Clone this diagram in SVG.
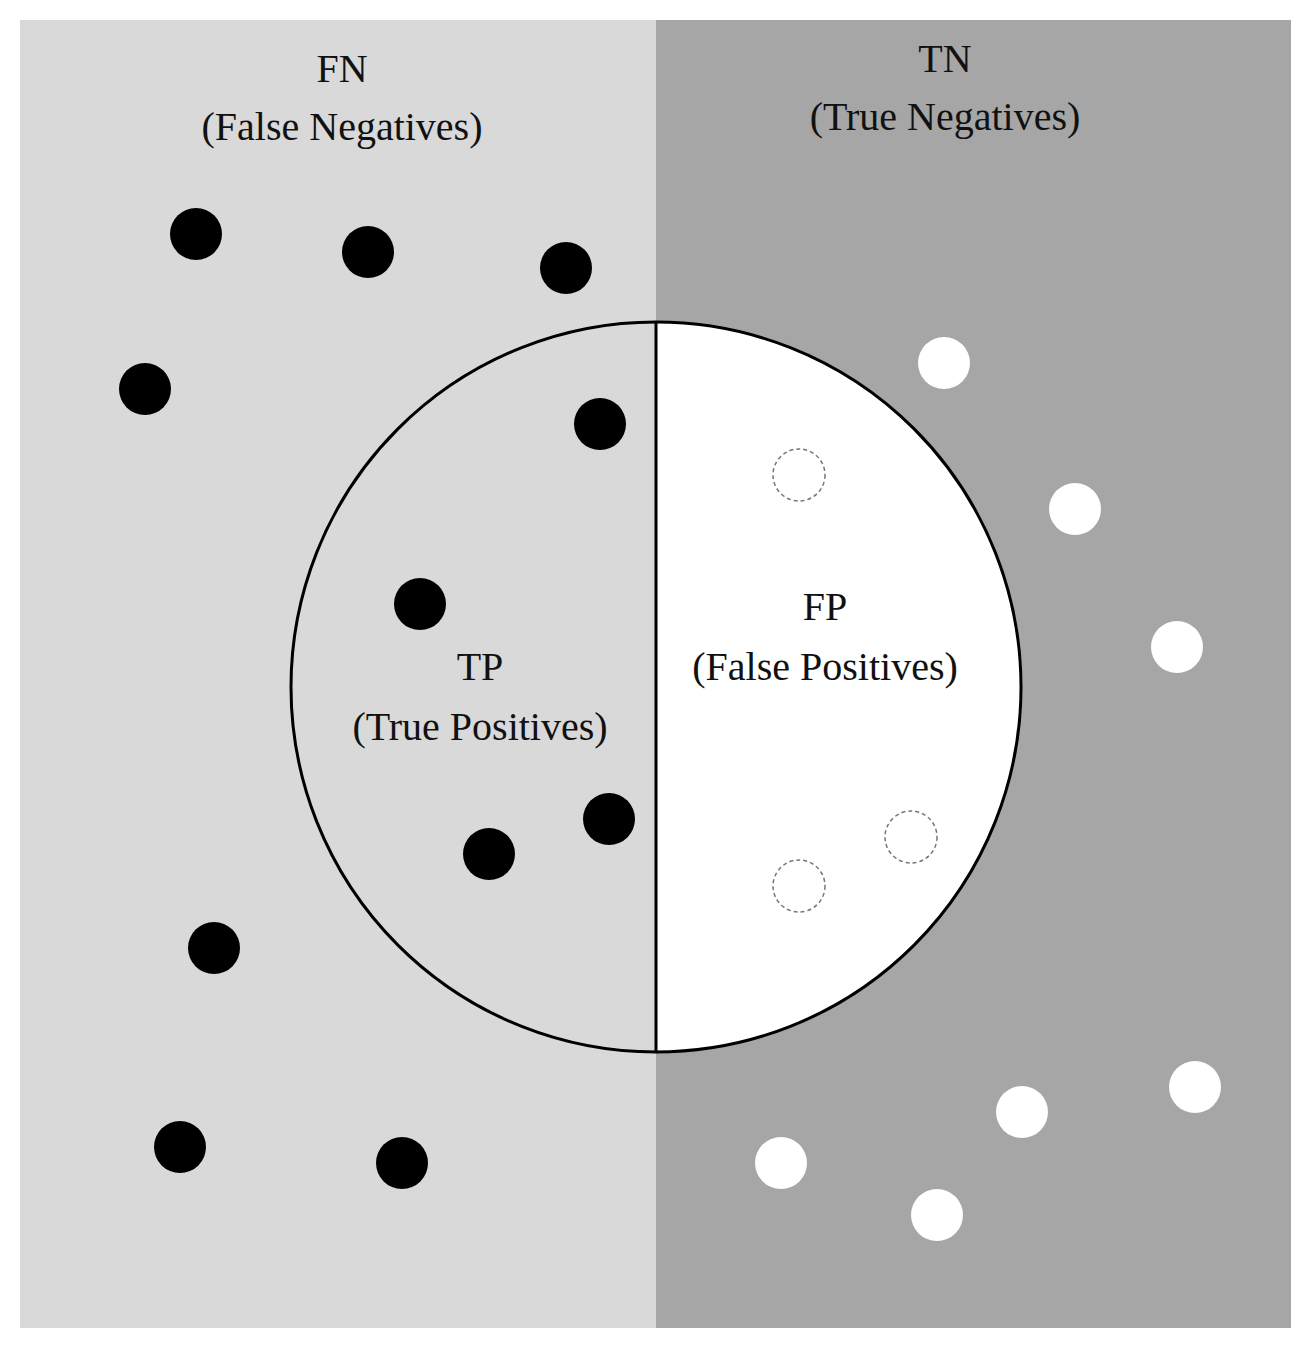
<svg xmlns="http://www.w3.org/2000/svg" width="1311" height="1348" viewBox="0 0 1311 1348">
<style>
text{font-family:"Liberation Serif",serif;font-size:40px;fill:#111;text-anchor:middle}
.b{fill:#000}
.w{fill:#fff}
.d{fill:#fff;stroke:#777;stroke-width:1.5;stroke-dasharray:4 3}
</style>
<rect width="1311" height="1348" fill="#fff"/>
<rect x="20" y="20" width="636" height="1308" fill="#d9d9d9"/>
<rect x="656" y="20" width="635" height="1308" fill="#a6a6a6"/>
<path d="M656 322 A365 365 0 0 1 656 1052 Z" fill="#fff"/>
<circle cx="656" cy="687" r="365" fill="none" stroke="#000" stroke-width="3"/>
<line x1="656" y1="322" x2="656" y2="1052" stroke="#000" stroke-width="3"/>
<g>
<circle class="b" cx="196" cy="234" r="26"/><circle class="b" cx="368" cy="252" r="26"/><circle class="b" cx="566" cy="268" r="26"/><circle class="b" cx="145" cy="389" r="26"/><circle class="b" cx="600" cy="424" r="26"/><circle class="b" cx="420" cy="604" r="26"/><circle class="b" cx="609" cy="819" r="26"/><circle class="b" cx="489" cy="854" r="26"/><circle class="b" cx="214" cy="948" r="26"/><circle class="b" cx="180" cy="1147" r="26"/><circle class="b" cx="402" cy="1163" r="26"/>
</g>
<g>
<circle class="w" cx="944" cy="363" r="26"/><circle class="w" cx="1075" cy="509" r="26"/><circle class="w" cx="1177" cy="647" r="26"/><circle class="w" cx="1195" cy="1087" r="26"/><circle class="w" cx="1022" cy="1112" r="26"/><circle class="w" cx="781" cy="1163" r="26"/><circle class="w" cx="937" cy="1215" r="26"/>
<circle class="d" cx="799" cy="475" r="26"/><circle class="d" cx="911" cy="837" r="26"/><circle class="d" cx="799" cy="886" r="26"/>
</g>
<text x="342" y="82">FN</text><text x="342" y="140">(False Negatives)</text>
<text x="945" y="72">TN</text><text x="945" y="130">(True Negatives)</text>
<text x="825" y="620">FP</text><text x="825" y="680">(False Positives)</text>
<text x="480" y="680">TP</text><text x="480" y="740">(True Positives)</text>
</svg>
